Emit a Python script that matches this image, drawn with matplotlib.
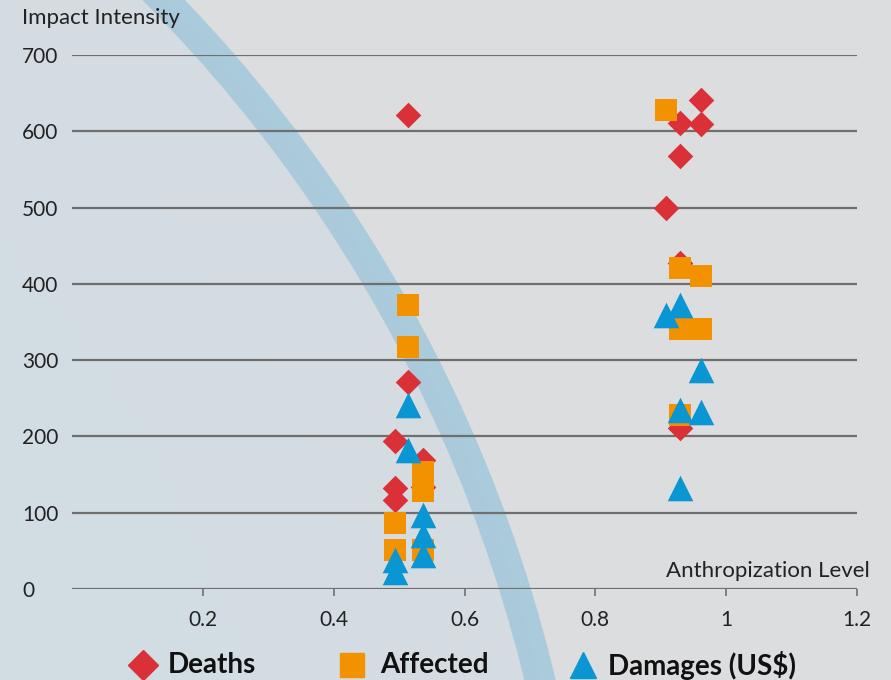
import numpy as np
import matplotlib
matplotlib.use("Agg")
import matplotlib.pyplot as plt
from matplotlib.patches import Circle

plt.rcParams['font.family'] = ['Lato', 'DejaVu Sans']

# ---- data ----
deaths_x = [0.514, 0.514, 0.493, 0.536, 0.536, 0.493, 0.493,
            0.962, 0.930, 0.962, 0.930, 0.908, 0.930, 0.930]
deaths_y = [621, 271, 194, 169, 134, 132, 117,
            641, 611, 609, 567, 500, 427, 211]

affected_x = [0.514, 0.514, 0.536, 0.536, 0.493, 0.493, 0.536,
              0.908, 0.930, 0.962, 0.930, 0.962, 0.930]
affected_y = [372, 317, 154, 128, 86, 51, 51,
              628, 421, 410, 341, 341, 228]

damages_x = [0.514, 0.514, 0.536, 0.536, 0.536, 0.493, 0.493,
             0.908, 0.930, 0.962, 0.930, 0.962, 0.930]
damages_y = [241, 182, 97, 71, 45, 38, 22,
             359, 372, 287, 235, 232, 132]

x_ticks = [0.2, 0.4, 0.6, 0.8, 1.0, 1.2]
x_tick_labels = ['0.2', '0.4', '0.6', '0.8', '1', '1.2']
y_ticks = [0, 100, 200, 300, 400, 500, 600, 700]

W, H = 891, 680
fig = plt.figure(figsize=(W / 100, H / 100), dpi=100)

# ---- background with gradient and arc ----
bg = fig.add_axes([0, 0, 1, 1], zorder=0)
bg.set_xlim(0, W)
bg.set_ylim(H, 0)
bg.axis('off')
yy, xx = np.mgrid[0:H, 0:W]
cx, cy, R = -884, 1024, 1465
d = np.sqrt((xx - cx) ** 2 + (yy - cy) ** 2)
t = np.clip((d - 700) / (R - 700), 0, 1)
left = np.array([0.815, 0.862, 0.895])
mid = np.array([0.835, 0.866, 0.888])
right = np.array([0.863, 0.867, 0.875])
inside = left[None, None, :] * (1 - t[..., None]) + mid[None, None, :] * t[..., None]
img = np.where((d < R)[..., None], inside, right[None, None, :])
bg.imshow(img, extent=[0, W, H, 0], aspect='auto', interpolation='bilinear')
band = Circle((cx, cy), R, fill=False, edgecolor='#a8cadb', linewidth=22, alpha=0.95)
bg.add_patch(band)

# ---- main axes ----
ax = fig.add_axes([72 / W, 1 - 589 / H, (857 - 72) / W, (589 - 55) / H], zorder=2)
ax.patch.set_alpha(0)
ax.set_xlim(0, 1.2)
ax.set_ylim(0, 700)

for v in y_ticks:
    ax.axhline(v, color='#6f6f6f', linewidth=1.6, zorder=1)

ax.scatter(deaths_x, deaths_y, marker='D', s=170, color='#d93137', zorder=3, linewidths=0)
ax.scatter(affected_x, affected_y, marker='s', s=260, color='#f39200', zorder=4, linewidths=0)
ax.scatter(damages_x, damages_y, marker='^', s=340, color='#0a95d3', zorder=5, linewidths=0)

for s in ['top', 'right', 'left', 'bottom']:
    ax.spines[s].set_visible(False)

ax.set_xticks(x_ticks)
ax.set_xticklabels(x_tick_labels, fontsize=15, color='#222222')
ax.set_yticks(y_ticks)
ax.set_yticklabels([str(v) for v in y_ticks], fontsize=15, color='#222222')
ax.tick_params(axis='x', length=5, width=1.2, color='#6f6f6f', pad=10, direction='out')
ax.tick_params(axis='y', length=0, pad=36)
for lab in ax.get_yticklabels():
    lab.set_horizontalalignment('left')

fig.text(22 / W, 1 - 18 / H, 'Impact Intensity', fontsize=16, color='#222222',
         ha='left', va='center')
fig.text(870 / W, 1 - 571 / H, 'Anthropization Level', fontsize=16, color='#222222',
         ha='right', va='center')

# ---- legend ----
leg_y = 1 - 665 / H
fig.lines.append(plt.Line2D([143 / W], [leg_y], marker='D', markersize=15, color='#d93137',
                            transform=fig.transFigure, linestyle='none', figure=fig))
fig.text(168 / W, leg_y, 'Deaths', fontsize=20, fontweight='bold', color='#111111',
         ha='left', va='center')
fig.lines.append(plt.Line2D([352 / W], [leg_y], marker='s', markersize=17, color='#f39200',
                            transform=fig.transFigure, linestyle='none', figure=fig))
fig.text(380 / W, leg_y, 'Affected', fontsize=20, fontweight='bold', color='#111111',
         ha='left', va='center')
fig.lines.append(plt.Line2D([583 / W], [leg_y], marker='^', markersize=19, color='#0a95d3',
                            transform=fig.transFigure, linestyle='none', figure=fig))
fig.text(608 / W, leg_y, 'Damages (US$)', fontsize=20, fontweight='bold', color='#111111',
         ha='left', va='center')

fig.savefig('out.png', dpi=100)
